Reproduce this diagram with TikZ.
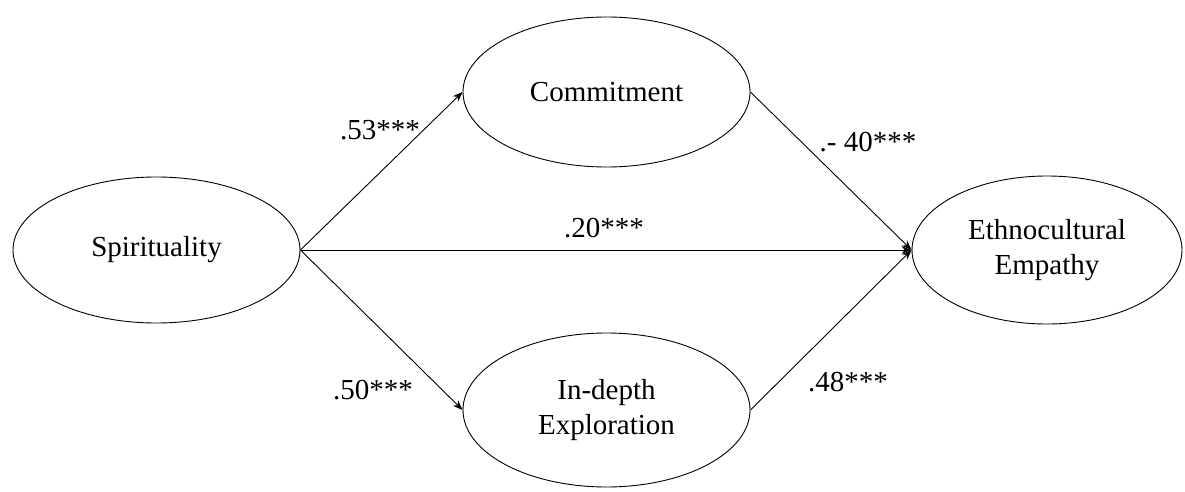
\documentclass[tikz,border=0pt]{standalone}
\usepackage{fontspec}
\setmainfont{Liberation Serif}
\usetikzlibrary{shapes.geometric,arrows.meta}
\begin{document}
\begin{tikzpicture}[x=1pt,y=-1pt,
  latent/.style={draw, ellipse, line width=0.9pt, inner sep=0pt, align=center,
    font=\fontsize{29}{35}\selectfont},
  path/.style={draw, line width=0.9pt, -{Stealth[length=10pt,width=7.5pt]}},
  coef/.style={font=\fontsize{29}{34}\selectfont, inner sep=0pt}]
\useasboundingbox (0,0) rectangle (1185,492);
\node[latent, minimum width=287, minimum height=146] (spi) at (156.5,250) {Spirituality};
\node[latent, minimum width=287, minimum height=150] (com) at (606.5,92) {Commitment};
\node[latent, minimum width=287, minimum height=154] (exp) at (606.5,410) {In-depth\\Exploration};
\node[latent, minimum width=270, minimum height=148] (eth) at (1047,250) {Ethnocultural\\Empathy};
\draw[path] (spi.east) -- (com.west);
\draw[path] (spi.east) -- (exp.west);
\draw[path] (spi.east) -- (eth.west);
\draw[path] (com.east) -- (eth.west);
\draw[path] (exp.east) -- (eth.west);
\node[coef] (c1) at (380,130) {.53***};
\node[coef] (c2) at (373,390) {.50***};
\node[coef] (c3) at (604,228) {.20***};
\node[coef] (c4) at (868,142) {.- 40***};
\node[coef] (c5) at (848,382) {.48***};
\end{tikzpicture}
\end{document}
